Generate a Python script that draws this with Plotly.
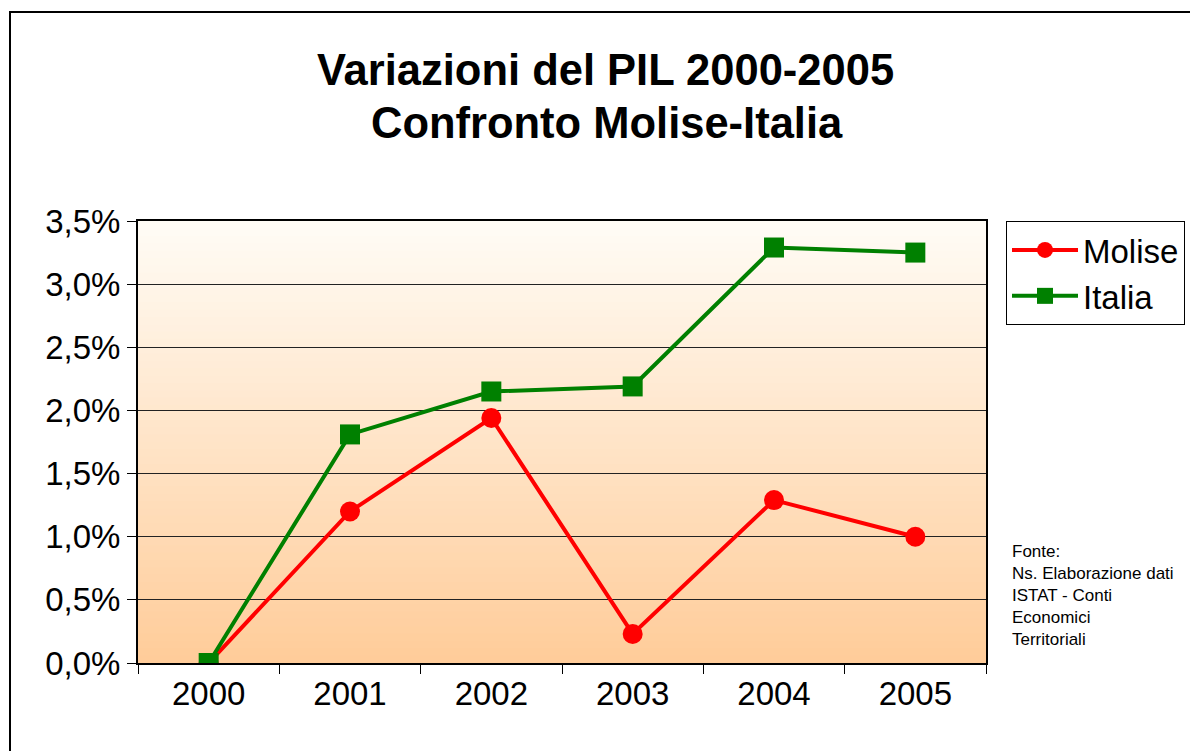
import plotly.graph_objects as go

years = ["2000", "2001", "2002", "2003", "2004", "2005"]
molise = [0.0, 1.20, 1.94, 0.23, 1.29, 1.00]
italia = [0.0, 1.81, 2.15, 2.19, 3.29, 3.25]
y_ticks = [0.0, 0.5, 1.0, 1.5, 2.0, 2.5, 3.0, 3.5]
y_tick_labels = ["0,0%", "0,5%", "1,0%", "1,5%", "2,0%", "2,5%", "3,0%", "3,5%"]

W, H = 1190, 751
L, R, T, B = 138, 986, 221, 663
font = "Liberation Sans, Arial, sans-serif"

fig = go.Figure()
fig.add_trace(go.Scatter(x=years, y=molise, name="Molise", mode="lines+markers",
                         line=dict(color="#FF0000", width=4),
                         marker=dict(symbol="circle", size=20, color="#FF0000")))
fig.add_trace(go.Scatter(x=years, y=italia, name="Italia", mode="lines+markers",
                         line=dict(color="#008000", width=4),
                         marker=dict(symbol="square", size=20, color="#008000")))

# gradient background bands (plot area)
shapes = []
n = 60
top = (255, 252, 246)
bot = (255, 204, 153)
for i in range(n):
    t = (i + 0.5) / n
    c = tuple(round(bot[k] + (top[k] - bot[k]) * t) for k in range(3))
    shapes.append(dict(type="rect", xref="x domain", yref="y domain",
                       x0=0, x1=1, y0=i / n, y1=(i + 1) / n + 0.002,
                       fillcolor="rgb(%d,%d,%d)" % c, line=dict(width=0), layer="below"))

# outer chart border
pw, ph = R - L, B - T
def px(x):
    return (x - L) / pw
def py(y):
    return (B - y) / ph
shapes.append(dict(type="rect", xref="paper", yref="paper",
                   x0=px(10), x1=px(1200), y0=py(760), y1=py(12),
                   line=dict(color="black", width=2), fillcolor="rgba(0,0,0,0)", layer="above"))

fig.update_layout(
    width=W, height=H,
    margin=dict(l=L, r=W - R, t=T, b=H - B, autoexpand=False),
    paper_bgcolor="white", plot_bgcolor="white",
    shapes=shapes,
    font=dict(family=font, color="black"),
    showlegend=True,
    legend=dict(x=px(1006), y=1.0, xanchor="left", yanchor="top",
                bgcolor="white", bordercolor="black", borderwidth=1,
                font=dict(size=33, family=font), itemwidth=66,
                tracegroupgap=0),
    annotations=[
        dict(text="<b>Variazioni del PIL 2000-2005</b>", xref="paper", yref="paper",
             x=px(605), y=py(70), showarrow=False, font=dict(size=43.5, family=font),
             xanchor="center", yanchor="middle"),
        dict(text="<b>Confronto Molise-Italia</b>", xref="paper", yref="paper",
             x=px(607), y=py(123), showarrow=False, font=dict(size=43.5, family=font),
             xanchor="center", yanchor="middle"),
        dict(text="Fonte:<br>Ns. Elaborazione dati<br>ISTAT - Conti<br>Economici<br>Territoriali",
             xref="paper", yref="paper", x=px(1010), y=py(540), showarrow=False,
             align="left", xanchor="left", yanchor="top",
             font=dict(size=17, family=font)),
    ],
)

fig.update_xaxes(type="category", tickson="boundaries", ticks="outside", ticklen=9,
                 tickcolor="black", showline=True, linecolor="black", linewidth=2,
                 mirror=True, showgrid=False, tickfont=dict(size=33, family=font),
                 range=[-0.5, 5.5])
fig.update_yaxes(range=[0, 3.5], tickmode="array", tickvals=y_ticks, ticktext=y_tick_labels,
                 ticks="outside", ticklen=9, tickcolor="black", showline=True,
                 linecolor="black", linewidth=2, mirror=True, showgrid=True,
                 gridcolor="#222222", gridwidth=1, zeroline=False,
                 tickfont=dict(size=33, family=font))

fig.write_html("out.html", config={"displayModeBar": False},
               post_script="document.body.style.margin='0';")
